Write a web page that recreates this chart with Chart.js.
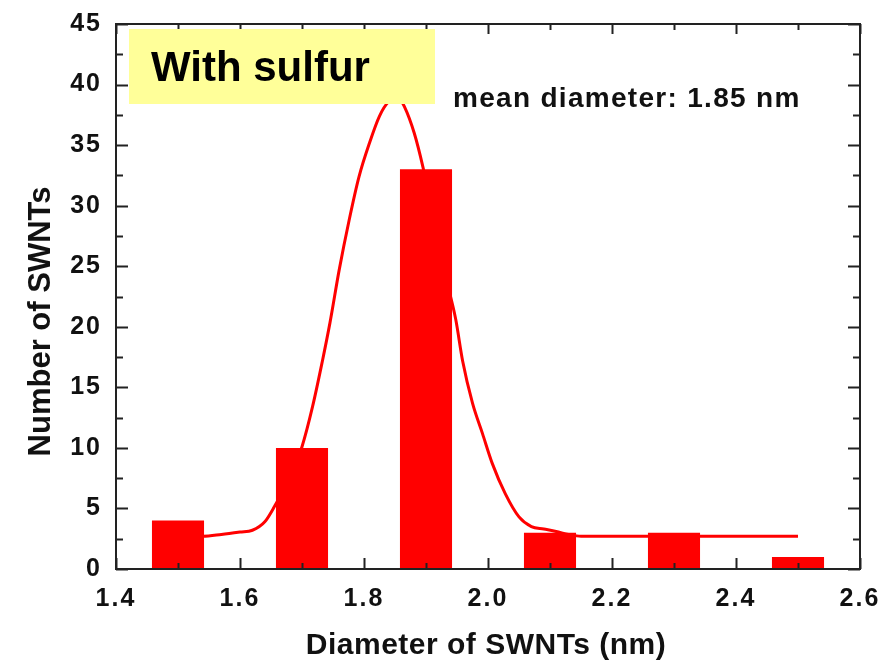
<!DOCTYPE html>
<html>
<head>
<meta charset="utf-8">
<script src="https://cdn.jsdelivr.net/npm/chart.js@4/dist/chart.umd.min.js"></script>
<style>
  html, body { margin: 0; padding: 0; background: #ffffff; }
  canvas { display: block; }
</style>
</head>
<body>
<canvas id="c" width="882" height="661"></canvas>
<script>
// ---- data ----
const binCenters = [1.5, 1.7, 1.9, 2.1, 2.3, 2.5];
const counts     = [4, 10, 33, 3, 3, 1];

const fitX = [1.50, 1.54, 1.57, 1.60, 1.62, 1.64, 1.656, 1.68, 1.70, 1.717, 1.733, 1.745, 1.76, 1.776, 1.792, 1.809, 1.825, 1.84, 1.85, 1.86, 1.865, 1.881, 1.895, 1.91, 1.93, 1.948, 1.959, 1.975, 1.991, 2.007, 2.028, 2.05, 2.07, 2.09, 2.11, 2.13, 2.15, 2.2, 2.3, 2.4, 2.5];
const fitY = [2.7, 2.7, 2.85, 3.05, 3.2, 3.9, 5.2, 7.5, 10.1, 13.4, 17.2, 20.3, 24.7, 28.8, 32.4, 35.2, 37.4, 38.6, 38.8, 38.6, 38.2, 36.0, 33.2, 29.5, 24.5, 20.6, 17.2, 13.7, 11.2, 8.7, 6.2, 4.3, 3.5, 3.3, 3.1, 2.85, 2.7, 2.7, 2.7, 2.7, 2.7];

const xTickValues = [1.4, 1.6, 1.8, 2.0, 2.2, 2.4, 2.6];
const yTickValues = [0, 5, 10, 15, 20, 25, 30, 35, 40, 45];

const xTitle = 'Diameter of SWNTs (nm)';
const yTitle = 'Number of SWNTs';
const boxLabel = 'With sulfur';
const meanLabel = 'mean diameter: 1.85 nm';

// ---- build datasets ----
const barData = binCenters.map((x, i) => ({ x: x, y: counts[i] }));
const fitData = fitX.map((x, i) => ({ x: x, y: fitY[i] }));

const INK = '#111111';

const decor = {
  id: 'decor',
  beforeDraw(chart) {
    chart.ctx.letterSpacing = '2px';
  },
  afterDraw(chart) {
    const ctx = chart.ctx;
    const a = chart.chartArea;
    const xs = chart.scales.x, ys = chart.scales.y;
    ctx.save();
    ctx.letterSpacing = '0px';
    ctx.strokeStyle = '#222222';
    ctx.lineWidth = 2;
    // frame
    ctx.strokeRect(a.left, a.top, a.right - a.left, a.bottom - a.top);
    // ticks
    ctx.beginPath();
    const xMinor = xTickValues.slice(0, -1).map((v, i) => (v + xTickValues[i + 1]) / 2);
    const yMinor = yTickValues.slice(0, -1).map((v, i) => (v + yTickValues[i + 1]) / 2);
    xTickValues.forEach(v => {
      const p = Math.round(xs.getPixelForValue(v)) + 0.5;
      ctx.moveTo(p, a.bottom); ctx.lineTo(p, a.bottom - 11);
      ctx.moveTo(p, a.top); ctx.lineTo(p, a.top + 10);
    });
    xMinor.forEach(v => {
      const p = Math.round(xs.getPixelForValue(v)) + 0.5;
      ctx.moveTo(p, a.bottom); ctx.lineTo(p, a.bottom - 6);
      ctx.moveTo(p, a.top); ctx.lineTo(p, a.top + 6);
    });
    yTickValues.forEach(v => {
      const p = Math.round(ys.getPixelForValue(v)) + 0.5;
      ctx.moveTo(a.left, p); ctx.lineTo(a.left + 12, p);
      ctx.moveTo(a.right, p); ctx.lineTo(a.right - 12, p);
    });
    yMinor.forEach(v => {
      const p = Math.round(ys.getPixelForValue(v)) + 0.5;
      ctx.moveTo(a.left, p); ctx.lineTo(a.left + 7, p);
      ctx.moveTo(a.right, p); ctx.lineTo(a.right - 7, p);
    });
    ctx.stroke();

    // yellow label box
    ctx.fillStyle = '#FFFF99';
    ctx.fillRect(129, 29, 306, 75);
    ctx.fillStyle = '#000000';
    ctx.font = 'bold 42px "Liberation Sans", Arial, sans-serif';
    ctx.textAlign = 'left';
    ctx.textBaseline = 'alphabetic';
    ctx.fillText(boxLabel, 151, 81);

    // mean diameter text
    ctx.fillStyle = INK;
    ctx.letterSpacing = '1.3px';
    ctx.font = 'bold 28px "Liberation Sans", Arial, sans-serif';
    ctx.fillText(meanLabel, 453, 107);

    // x axis title
    ctx.letterSpacing = '0.5px';
    ctx.font = 'bold 30px "Liberation Sans", Arial, sans-serif';
    ctx.textAlign = 'center';
    ctx.fillText(xTitle, 486, 654);

    // y axis title
    ctx.letterSpacing = '0px';
    ctx.font = 'bold 31px "Liberation Sans", Arial, sans-serif';
    ctx.translate(50, 321.5);
    ctx.rotate(-Math.PI / 2);
    ctx.textAlign = 'center';
    ctx.fillText(yTitle, 0, 0);
    ctx.restore();
  }
};

new Chart(document.getElementById('c'), {
  type: 'bar',
  data: {
    datasets: [
      {
        type: 'bar',
        data: barData,
        backgroundColor: '#FF0000',
        borderWidth: 0,
        barPercentage: 0.42,
        categoryPercentage: 1.0,
        order: 1
      },
      {
        type: 'line',
        data: fitData,
        borderColor: '#FF0000',
        borderWidth: 3,
        pointRadius: 0,
        fill: false,
        cubicInterpolationMode: 'monotone',
        order: 2
      }
    ]
  },
  options: {
    responsive: false,
    animation: false,
    events: [],
    layout: { padding: { top: 24, right: 22, left: 0, bottom: 0 } },
    plugins: { legend: { display: false }, tooltip: { enabled: false } },
    scales: {
      x: {
        type: 'linear',
        min: 1.4,
        max: 2.6,
        offset: false,
        grid: { display: false, drawTicks: false },
        border: { display: false },
        afterBuildTicks: s => { s.ticks = xTickValues.map(v => ({ value: v })); },
        afterFit: s => { s.height = 92; s.paddingLeft = 0; s.paddingRight = 0; s.paddingTop = 0; s.paddingBottom = 0; },
        ticks: {
          autoSkip: false,
          maxRotation: 0,
          padding: 15,
          color: INK,
          font: { family: '"Liberation Sans", Arial, sans-serif', weight: 'bold', size: 25 },
          callback: v => Number(v).toFixed(1)
        }
      },
      y: {
        type: 'linear',
        min: 0,
        max: 45,
        grid: { display: false, drawTicks: false },
        border: { display: false },
        afterBuildTicks: s => { s.ticks = yTickValues.map(v => ({ value: v })); },
        afterFit: s => { s.width = 116; s.paddingLeft = 0; s.paddingRight = 0; s.paddingTop = 0; s.paddingBottom = 0; },
        ticks: {
          autoSkip: false,
          padding: 14,
          color: INK,
          font: { family: '"Liberation Sans", Arial, sans-serif', weight: 'bold', size: 25 },
          callback: v => String(v)
        }
      }
    }
  },
  plugins: [decor]
});
</script>
</body>
</html>
